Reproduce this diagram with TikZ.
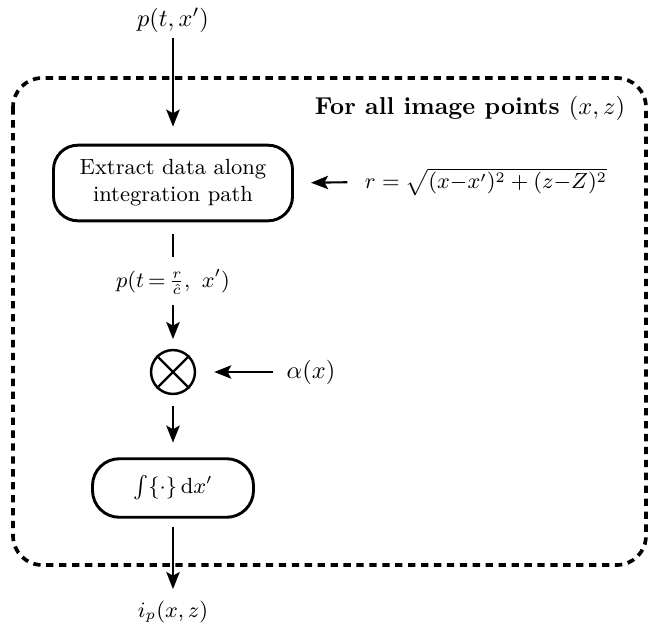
\documentclass[tikz,border=0pt]{standalone}
\usepackage{amssymb, mathtools, amsmath}
\usepackage{tikz}
\usetikzlibrary{arrows.meta}

\begin{document}
\begin{tikzpicture}[x=0.41pt,y=0.41pt,yscale=-1,xscale=1,
  blk/.style={draw, line width=1.2pt, rounded corners=10pt, align=center, font=\small},
  flow/.style={-{Stealth[length=7pt,width=5.5pt,inset=1.5pt]}, line width=0.85pt},
  lbl/.style={inner sep=1pt}]
\useasboundingbox (0,0) rectangle (648,629);

%Shape: dashed loop region
\draw [line width=1.5pt, dash pattern={on 3pt off 2.3pt}, rounded corners=12pt] (13,78) rectangle (646,565);

% Text Node
\node [lbl] (pin) at (173,20) {$p(t,x')$};
\node [font=\bfseries] (loop) at (470,108) {For all image points \normalfont$(x,z)$};

% Blocks
\node [blk, minimum width=98pt, minimum height=31pt] (extract) at (173,183) {Extract data along\\integration path};
\node [lbl, font=\small] (radius) at (486,182) {$r=\sqrt{(x{-}x')^2+(z{-}Z)^2}$};
\node [lbl, font=\small] (pdelay) at (173,282) {$p(t\,{=}\,\frac{r}{\hat{c}},\ x')$};
\node [draw, circle, line width=1pt, minimum size=18pt, inner sep=0pt] (mult) at (173,372) {};
\draw [line width=0.9pt] (mult.north east) -- (mult.south west) (mult.north west) -- (mult.south east);
\node [lbl] (alpha) at (311,372) {$\alpha(x)$};
\node [blk, rounded corners=11pt, minimum width=66pt, minimum height=24pt] (integ) at (173,488) {$\int\{\cdot\}\,\mathrm{d}x'$};
\node [lbl, font=\small] (pout) at (173,612) {$i_p(x,z)$};

% Connectors
\draw [flow, shorten <=1pt, shorten >=7pt] (pin) -- (extract);
\draw [flow, shorten <=6pt, shorten >=7pt] (radius.west) -- (extract.east);
\draw [line width=0.85pt, shorten <=5pt, shorten >=4pt] (extract) -- (pdelay);
\draw [flow, shorten <=3pt, shorten >=4pt] (pdelay) -- (mult);
\draw [flow, shorten <=4.5pt, shorten >=7.4pt] (alpha) -- (mult);
\draw [flow, shorten <=4.5pt, shorten >=6pt] (mult) -- (integ);
\draw [flow, shorten <=3.3pt, shorten >=3.7pt] (integ) -- (pout);

\end{tikzpicture}
\end{document}
